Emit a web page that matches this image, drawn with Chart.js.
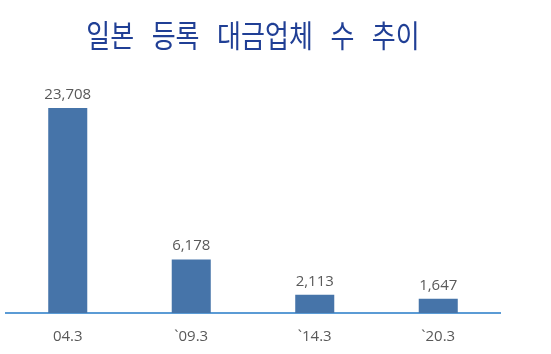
<!DOCTYPE html>
<html>

<head>
  <meta charset="UTF-8">
  <title>일본 등록 대금업체 수 추이</title>
  <script src="https://cdn.jsdelivr.net/npm/chart.js"></script>
  <style>
    body {
      margin: 0;
      background: #fff;
    }

    .wrap {
      width: 551px;
      height: 354px;
    }
  </style>
</head>

<body>
  <div class="wrap">
    <canvas id="lenderChart" width="551" height="354"></canvas>
  </div>

  <script>
    const chartTitle = '일본   등록   대금업체   수   추이';
    const periods = ['04.3', '`09.3', '`14.3', '`20.3'];
    const lenderCounts = [23708, 6178, 2113, 1647];

    // petit plugin maison pour écrire la valeur au-dessus de chaque barre
    const valueLabels = {
      id: 'valueLabels',
      afterDatasetsDraw(chart) {
        const ctx = chart.ctx;
        const meta = chart.getDatasetMeta(0);
        ctx.save();
        ctx.font = '15px "Open Sans", sans-serif';
        ctx.fillStyle = '#595959';
        ctx.textAlign = 'center';
        ctx.textBaseline = 'bottom';
        meta.data.forEach((bar, i) => {
          ctx.fillText(lenderCounts[i].toLocaleString('en-US'), bar.x, bar.y - 6);
        });
        ctx.restore();
      }
    };

    // titre un peu condensé, comme dans l'original
    const condensedTitle = {
      id: 'condensedTitle',
      afterDraw(chart) {
        const ctx = chart.ctx;
        const area = chart.chartArea;
        ctx.save();
        ctx.translate((area.left + area.right) / 2, 35);
        ctx.scale(0.84, 1);
        ctx.font = '31px "Noto Sans CJK KR", sans-serif';
        ctx.fillStyle = '#203F95';
        ctx.textAlign = 'center';
        ctx.textBaseline = 'middle';
        ctx.fillText(chartTitle, 0, 0);
        ctx.restore();
      }
    };

    const ctx = document.getElementById('lenderChart').getContext('2d');
    new Chart(ctx, {
      type: 'bar',
      data: {
        labels: periods,
        datasets: [{
          data: lenderCounts,
          backgroundColor: '#4674A9',
          categoryPercentage: 1,
          barPercentage: 0.316
        }]
      },
      options: {
        responsive: false,
        animation: false,
        layout: {
          padding: { left: 6, right: 51, top: 71, bottom: 0 }
        },
        plugins: {
          legend: { display: false },
          tooltip: { enabled: false },
          title: { display: false }
        },
        scales: {
          x: {
            grid: { display: false, drawTicks: false },
            border: { display: true, color: '#5B9BD5', width: 2 },
            ticks: {
              color: '#595959',
              font: { family: '"Open Sans", sans-serif', size: 15 },
              padding: 15
            },
            afterFit(scale) {
              scale.height = 41;
            }
          },
          y: {
            display: false,
            min: 0,
            max: 28000
          }
        }
      },
      plugins: [valueLabels, condensedTitle]
    });
  </script>
</body>

</html>
